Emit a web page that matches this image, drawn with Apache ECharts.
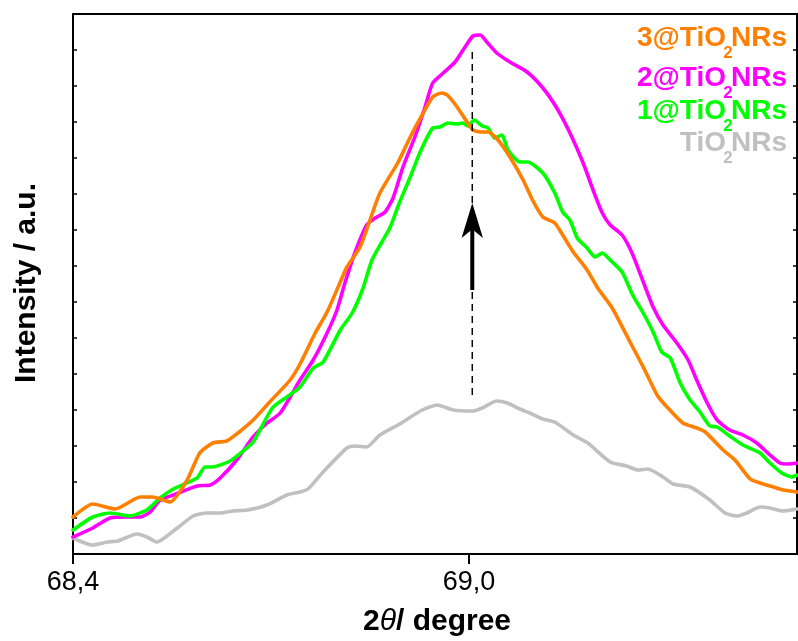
<!DOCTYPE html>
<html><head><meta charset="utf-8">
<script src="https://cdn.jsdelivr.net/npm/echarts@6/dist/echarts.min.js"></script>
<style>html,body{margin:0;padding:0;background:#fff}#c{width:798px;height:641px}</style>
</head><body><div id="c"></div>
<script>
// ---- data ----
const xTickValues = [68.4, 69.0];
const xTitle = ['2', 'θ', '/ degree'];
const yTitle = 'Intensity / a.u.';
const legendPrefix = ['3@TiO', '2@TiO', '1@TiO', 'TiO'];
const legendSuffix = 'NRs';
const legendSub = '2';

const orangeX = [68.4, 68.430, 68.464, 68.502, 68.521, 68.547, 68.573, 68.592, 68.612, 68.633, 68.648, 68.673, 68.698, 68.729, 68.744, 68.767, 68.785, 68.805, 68.815, 68.835, 68.850, 68.865, 68.892, 68.911, 68.929, 68.945, 68.959, 68.967, 68.982, 68.997, 69.006, 69.017, 69.029, 69.044, 69.062, 69.082, 69.097, 69.112, 69.130, 69.142, 69.158, 69.179, 69.195, 69.217, 69.244, 69.264, 69.285, 69.300, 69.324, 69.345, 69.358, 69.385, 69.403, 69.426, 69.441, 69.461, 69.476, 69.497];
const orangeY = [37, 50, 45, 57, 57, 52, 74, 101, 111, 113, 120, 134, 152, 174, 190, 221, 242, 272, 287, 307, 334, 361, 391, 417, 439, 457, 461, 459, 447, 432, 424, 422, 422, 414, 397, 374, 353, 337, 331, 319, 302, 284, 266, 246, 212, 187, 159, 147, 131, 126, 122, 104, 94, 75, 71, 67, 64, 62];

const magentaX = [68.4, 68.430, 68.456, 68.482, 68.502, 68.517, 68.532, 68.552, 68.588, 68.608, 68.623, 68.648, 68.673, 68.694, 68.714, 68.744, 68.764, 68.785, 68.800, 68.812, 68.827, 68.845, 68.858, 68.873, 68.885, 68.900, 68.918, 68.933, 68.945, 68.961, 68.979, 68.994, 69.006, 69.017, 69.027, 69.042, 69.062, 69.088, 69.112, 69.133, 69.153, 69.173, 69.188, 69.202, 69.214, 69.232, 69.247, 69.267, 69.279, 69.294, 69.315, 69.332, 69.345, 69.361, 69.376, 69.395, 69.415, 69.436, 69.456, 69.471, 69.483, 69.497];
const magentaY = [17, 26, 36, 37, 37, 42, 54, 59, 68, 69, 76, 94, 117, 131, 141, 174, 194, 221, 244, 271, 301, 329, 336, 342, 356, 387, 417, 446, 471, 481, 492, 507, 518, 519, 512, 501, 492, 482, 466, 446, 421, 391, 364, 341, 329, 319, 301, 267, 247, 229, 211, 194, 174, 151, 134, 124, 119, 111, 99, 91, 90, 91];

const greenX = [68.4, 68.430, 68.456, 68.486, 68.512, 68.532, 68.552, 68.588, 68.600, 68.611, 68.638, 68.656, 68.673, 68.702, 68.724, 68.744, 68.764, 68.779, 68.805, 68.823, 68.839, 68.853, 68.868, 68.880, 68.895, 68.911, 68.926, 68.945, 68.956, 68.968, 68.982, 68.991, 68.998, 69.008, 69.020, 69.029, 69.039, 69.050, 69.059, 69.077, 69.089, 69.112, 69.130, 69.142, 69.153, 69.164, 69.179, 69.191, 69.202, 69.214, 69.232, 69.248, 69.264, 69.279, 69.292, 69.305, 69.320, 69.335, 69.350, 69.365, 69.376, 69.395, 69.415, 69.441, 69.456, 69.474, 69.489, 69.497];
const greenY = [24, 37, 41, 38, 44, 56, 65, 76, 87, 87, 93, 102, 112, 146, 157, 167, 186, 192, 224, 241, 265, 294, 312, 326, 352, 377, 402, 426, 427, 431, 430, 431, 428, 434, 428, 426, 416, 419, 404, 392, 392, 381, 361, 342, 334, 316, 306, 297, 301, 294, 282, 259, 241, 222, 202, 196, 171, 154, 142, 128, 127, 118, 109, 101, 91, 81, 77, 79];

const grayX = [68.4, 68.429, 68.452, 68.468, 68.497, 68.512, 68.527, 68.558, 68.582, 68.603, 68.623, 68.642, 68.664, 68.694, 68.724, 68.744, 68.756, 68.779, 68.815, 68.827, 68.845, 68.865, 68.895, 68.929, 68.952, 68.976, 69.006, 69.020, 69.042, 69.058, 69.077, 69.092, 69.112, 69.130, 69.158, 69.180, 69.214, 69.239, 69.256, 69.271, 69.294, 69.309, 69.335, 69.365, 69.388, 69.406, 69.421, 69.441, 69.456, 69.476, 69.497];
const grayY = [16, 9, 12, 13, 20, 17, 12, 26, 38, 41, 41, 43, 44, 49, 59, 62, 65, 82, 106, 108, 107, 119, 130, 144, 149, 144, 143, 146, 153, 151, 145, 141, 135, 132, 119, 111, 92, 88, 84, 85, 77, 70, 67, 54, 41, 38, 41, 47, 46, 43, 45];

// annotation: peak position marker
const peakX = 69.005;
const dashRange = [159, 507];
const arrowShaft = [264, 330];
const arrowTip = 351;

// ---- chart ----
const FONT = '"Liberation Sans", Arial, sans-serif';
const COLORS = { orange: '#FF7F00', magenta: '#FF00FF', green: '#00FF00', gray: '#C0C0C0' };
const legendColors = [COLORS.orange, COLORS.magenta, COLORS.green, COLORS.gray];
function pairs(xs, ys) { return xs.map((x, i) => [x, ys[i]]); }

const chart = echarts.init(document.getElementById('c'), null, { renderer: 'canvas' });

const axisLine = { show: true, onZero: false, lineStyle: { color: '#000', width: 2 } };
const xMin = 68.4, xMax = 69.497;

function curve(name, xs, ys, color) {
  return {
    name, type: 'line', data: pairs(xs, ys), symbol: 'none', showSymbol: false,
    smooth: 0.2, lineStyle: { color, width: 3.6, join: 'round', cap: 'round' }, silent: true, z: 2
  };
}

const legendMid = [38.3, 78.3, 111.3, 143.3];
const subMid = [53, 93, 126, 158];
const graphics = [];
legendPrefix.forEach((p, i) => {
  graphics.push({ type: 'text', x: 726, y: legendMid[i], silent: true,
    style: { text: p, font: 'bold 28px ' + FONT, fill: legendColors[i], align: 'right', verticalAlign: 'middle' } });
  graphics.push({ type: 'text', x: 728, y: subMid[i], silent: true,
    style: { text: legendSub, font: 'bold 17px ' + FONT, fill: legendColors[i], align: 'center', verticalAlign: 'middle' } });
  graphics.push({ type: 'text', x: 731, y: legendMid[i], silent: true,
    style: { text: legendSuffix, font: 'bold 28px ' + FONT, fill: legendColors[i], align: 'left', verticalAlign: 'middle' } });
});
graphics.push({ type: 'text', x: 437, y: 622, silent: true,
  style: { text: '{n|' + xTitle[0] + '}{t|' + xTitle[1] + '}{n|' + xTitle[2] + '}', align: 'center', verticalAlign: 'middle', fill: '#000',
    rich: { n: { font: 'bold 30px ' + FONT, fill: '#000' }, t: { font: 'italic 30px ' + FONT, fill: '#000' } } } });
graphics.push({ type: 'text', x: 27, y: 283, rotation: Math.PI / 2, silent: true,
  style: { text: yTitle, font: 'bold 30px ' + FONT, fill: '#000', align: 'center', verticalAlign: 'middle' } });

const option = {
  animation: false,
  backgroundColor: '#fff',
  grid: { left: 73, right: 1, top: 14, bottom: 87 },
  xAxis: [
    { type: 'value', min: xMin, max: xMax, position: 'bottom', axisLine,
      axisTick: { show: true, inside: false, length: 10, lineStyle: { color: '#000', width: 2 }, customValues: xTickValues },
      axisLabel: { show: true, customValues: xTickValues, formatter: v => v.toFixed(1).replace('.', ','),
        fontSize: 27, fontFamily: FONT, color: '#000', margin: 15 },
      splitLine: { show: false } },
    { type: 'value', min: xMin, max: xMax, position: 'top', axisLine,
      axisTick: { show: false }, axisLabel: { show: false }, splitLine: { show: false } }
  ],
  yAxis: [
    { type: 'value', min: 0, max: 540, interval: 36, position: 'left', axisLine,
      axisTick: { show: true, inside: true, length: 4, lineStyle: { color: '#000', width: 1.5 } },
      axisLabel: { show: false }, splitLine: { show: false } },
    { type: 'value', min: 0, max: 540, interval: 36, position: 'right', axisLine,
      axisTick: { show: true, inside: true, length: 4, lineStyle: { color: '#000', width: 1.5 } },
      axisLabel: { show: false }, splitLine: { show: false } }
  ],
  series: [
    curve('TiO2NRs', grayX, grayY, COLORS.gray),
    curve('2@TiO2NRs', magentaX, magentaY, COLORS.magenta),
    curve('1@TiO2NRs', greenX, greenY, COLORS.green),
    curve('3@TiO2NRs', orangeX, orangeY, COLORS.orange),
    { type: 'line', data: [[peakX, dashRange[0]], [peakX, dashRange[1]]], symbol: 'none', silent: true, z: 3,
      lineStyle: { color: '#000', width: 1.5, type: [7, 5] } },
    { type: 'line', data: [[peakX, arrowShaft[0]], [peakX, arrowShaft[1]]], symbol: 'none', silent: true, z: 4,
      lineStyle: { color: '#000', width: 4 } },
    { type: 'scatter', data: [[peakX, arrowTip]], symbol: 'arrow', symbolSize: [16, 35], silent: true, z: 4,
      itemStyle: { color: '#000', opacity: 1 } }
  ],
  graphic: graphics
};
chart.setOption(option);
</script>
</body></html>
